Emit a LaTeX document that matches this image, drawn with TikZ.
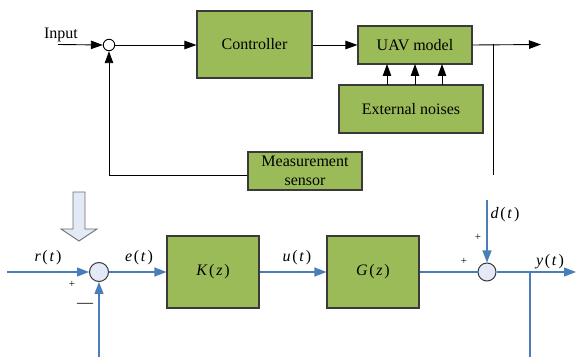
\documentclass[tikz,border=0pt]{standalone}
\usepackage{fontspec}
\setmainfont{Liberation Serif}
\usetikzlibrary{arrows.meta}
\definecolor{boxgreen}{HTML}{9BBB59}
\definecolor{boxedge}{HTML}{3A3A3A}
\definecolor{lblue}{HTML}{4A7EBB}
\definecolor{cfill}{HTML}{E3EAF6}
\definecolor{hollowedge}{HTML}{6E6E6E}
\tikzset{
  gbox/.style={draw=boxedge, line width=1.1pt, fill=boxgreen, inner sep=0pt, font=\fontsize{16}{18}\selectfont, align=center},
  blk/.style={draw=black, line width=0.9pt, -{Triangle[length=12pt,width=8.5pt]}},
  bline/.style={draw=black, line width=0.9pt},
  blu/.style={draw=lblue, line width=1.3pt, -{Triangle[length=12pt,width=9pt]}},
  bluline/.style={draw=lblue, line width=1.3pt},
  sumc/.style={circle, draw=boxedge, line width=1pt, fill=cfill, minimum size=19pt, inner sep=0pt},
  lab/.style={font=\fontsize{16}{18}\selectfont},
  sgn/.style={font=\fontsize{11}{12}\selectfont},
}
\newcommand{\sig}[2]{\textit{#1}\kern1.6pt(\kern1.8pt\textit{#2}\kern1.8pt)}
\begin{document}
\begin{tikzpicture}[x=1pt,y=-1pt]
\useasboundingbox (0,0) rectangle (576,358);
% ---------- top diagram ----------
\coordinate (in) at (58,44.5);
\node[circle, draw=black, line width=0.9pt, minimum size=11.5pt, inner sep=0pt] (s1) at (109,45) {};
\node[lab, anchor=base] (inlab) at (61,39) {Input};
\node[gbox, minimum width=115pt, minimum height=67pt] (ctrl) at (254.5,44.5) {Controller};
\node[gbox, minimum width=114pt, minimum height=38pt] (uav) at (415,45) {UAV model};
\node[gbox, minimum width=144pt, minimum height=48pt] (ext) at (411,109) {External noises};
\node[gbox, minimum width=114pt, minimum height=38pt, font=\fontsize{16}{19}\selectfont] (meas) at (305,171) {Measurement\\sensor};
\coordinate (out) at (541,44.5);
\coordinate (tap) at (493,44.5);
\coordinate (tapend) at (493,175);
\coordinate (fb) at (109,175);

\draw[blk] (in) -- (s1.west);
\draw[blk] (s1.east) -- (ctrl.west |- s1.east);
\draw[blk] (ctrl.east |- uav.west) -- (uav.west);
\draw[blk] (uav.east) -- (out);
\draw[bline] (tap) -- (tapend);
\draw[blk] (meas.west |- fb) -- (fb) -- (s1.south);
\foreach \xx in {387,415,442}{
  \draw[blk] (\xx,85) -- (\xx,64);
}
% ---------- hollow arrow ----------
\draw[draw=hollowedge, fill=cfill, line width=0.9pt, line join=miter]
  (73,192) -- (85,192) -- (85,229) -- (97,229) -- (79,241) -- (61,229) -- (73,229) -- cycle;
% ---------- bottom diagram ----------
\coordinate (rin) at (7,272);
\node[sumc] (s2) at (99,272) {};
\node[gbox, minimum width=92pt, minimum height=72pt] (K) at (213,272) {\sig{K}{z}};
\node[gbox, minimum width=92pt, minimum height=72pt] (G) at (373,272) {\sig{G}{z}};
\node[sumc, minimum size=18pt] (s3) at (487,272) {};
\coordinate (yout) at (576,272);
\coordinate (ytap) at (530,272);
\coordinate (ytapend) at (530,357);
\coordinate (fb2) at (99,357);
\coordinate (dtop) at (487,200);

\draw[blu] (rin) -- (s2.west);
\draw[blu] (s2.east) -- (K.west);
\draw[blu] (K.east) -- (G.west);
\draw[bluline] (G.east) -- (s3.west);
\draw[blu] (s3.east) -- (yout);
\draw[bluline] (ytap) -- (ytapend);
\draw[blu] (fb2) -- (s2.south);
\draw[blu] (dtop) -- (s3.north);

\node[lab] (rl) at (48,258) {\sig{r}{t}};
\node[lab] (el) at (139,258) {\sig{e}{t}};
\node[lab] (ul) at (297,258) {\sig{u}{t}};
\node[lab] (yl) at (550,262) {\sig{y}{t}};
\node[lab] (dl) at (505,215) {\sig{d}{t}};
\node[sgn] (p1) at (72,284) {+};
\node[lab] (m1) at (85,305) {—};
\node[sgn] (p2) at (464,261) {+};
\node[sgn] (p3) at (478,237) {+};
\end{tikzpicture}
\end{document}
